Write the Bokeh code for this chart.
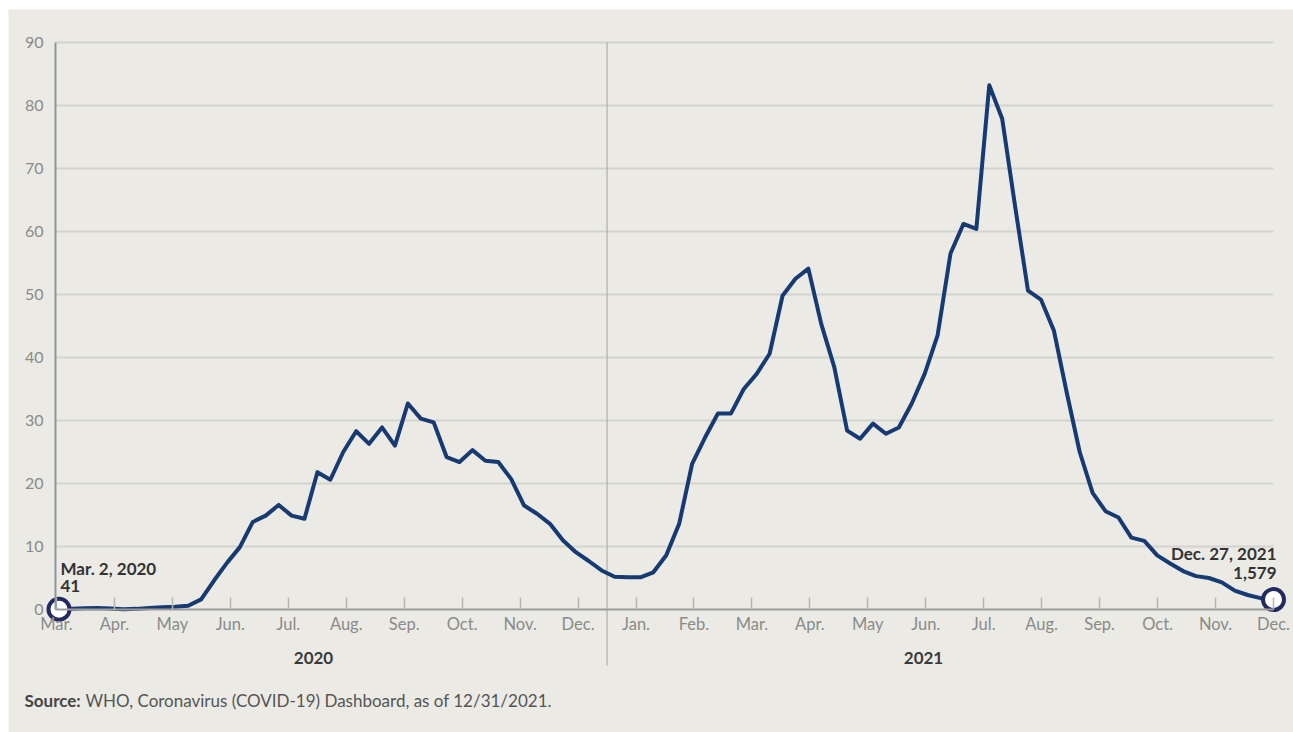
from bokeh.plotting import figure
from bokeh.models import Range1d, LinearAxis, FixedTicker
from bokeh.core.properties import value
from bokeh.embed import file_html
from bokeh.resources import INLINE

# ---------------- data (weekly, thousands) ----------------
deaths = [
    0.041, 0.1, 0.2, 0.25, 0.15, 0.05, 0.1, 0.25, 0.35, 0.45,
    0.6, 1.6, 4.6, 7.4, 9.9, 13.9, 14.9, 16.6, 14.9, 14.4,
    21.8, 20.6, 25.0, 28.3, 26.3, 28.9, 26.0, 32.7, 30.3, 29.7,
    24.2, 23.4, 25.3, 23.6, 23.4, 20.7, 16.5, 15.2, 13.6, 11.0,
    9.1, 7.7, 6.2, 5.2, 5.1, 5.1, 5.9, 8.6, 13.6, 23.1,
    27.3, 31.1, 31.1, 35.0, 37.4, 40.6, 49.8, 52.5, 54.1, 45.3,
    38.5, 28.4, 27.1, 29.5, 27.9, 28.9, 32.7, 37.4, 43.5, 56.5,
    61.2, 60.4, 83.2, 77.9, 64.0, 50.6, 49.2, 44.3, 34.4, 25.0,
    18.5, 15.6, 14.6, 11.4, 10.9, 8.6, 7.3, 6.1, 5.3, 5.0,
    4.3, 3.0, 2.3, 1.8, 1.579,
]
weeks = list(range(len(deaths)))
month_labels = ["Mar.", "Apr.", "May", "Jun.", "Jul.", "Aug.", "Sep.", "Oct.", "Nov.", "Dec.",
                "Jan.", "Feb.", "Mar.", "Apr.", "May", "Jun.", "Jul.", "Aug.", "Sep.", "Oct.",
                "Nov.", "Dec."]
year_labels = ["2020", "2021"]
y_ticks = [0, 10, 20, 30, 40, 50, 60, 70, 80, 90]
start_note = ["Mar. 2, 2020", "41"]
end_note = ["Dec. 27, 2021", "1,579"]
source_bold = "Source:"
source_rest = "WHO, Coronavirus (COVID-19) Dashboard, as of 12/31/2021."

# ---------------- layout (page pixels) ----------------
W, H = 1293, 732
LEFT, TOP = 8, 9
n = len(deaths)
X0_PX, X1_PX = 58.5, 1273.0      # px of first / last week
Y0_PX, YT_PX = 609.0, 42.0       # px of value 0 / 90
sx = (X1_PX - X0_PX) / (n - 1)
sy = (Y0_PX - YT_PX) / 90.0

def fx(px):
    return (px - X0_PX) / sx

def fy(py):
    return (Y0_PX - py) / sy

BG = "#ebeae4"
NAVY = "#173a73"
RING = "#232a61"
FONT = value("Lato")

p = figure(width=W, height=H, output_backend="svg", toolbar_location=None,
           x_axis_location=None, y_axis_location=None,
           x_range=Range1d(fx(LEFT), fx(W)), y_range=Range1d(fy(H), fy(TOP)),
           min_border_left=LEFT, min_border_right=0, min_border_top=TOP, min_border_bottom=0,
           background_fill_color=BG, border_fill_color="white", outline_line_color=None)
p.xgrid.visible = False
p.ygrid.visible = False

axis_x = fx(55)

# grid lines
p.segment(x0=axis_x, y0=y_ticks[1:], x1=n - 1, y1=y_ticks[1:], line_color="#d4d3ce", line_width=2)

# month ticks
t0 = fx(56)
month_ticks = [round(t0 + k * ((n - 1) - t0) / (len(month_labels) - 1), 4) for k in range(len(month_labels))]

# year divider
div_x = (month_ticks[9] + month_ticks[10]) / 2
p.segment(x0=[div_x], y0=[90], x1=[div_x], y1=[fy(665)], line_color="#a3a3a3", line_width=1)

# axes
xaxis = LinearAxis(ticker=FixedTicker(ticks=month_ticks), fixed_location=0,
                   bounds=(axis_x, n - 1))
xaxis.major_label_overrides = {t: lab for t, lab in zip(month_ticks, month_labels)}
xaxis.axis_line_color = "#9c9c9c"
xaxis.axis_line_width = 2
xaxis.major_tick_in = 12
xaxis.major_tick_out = 0
xaxis.major_tick_line_color = "#b5b5b5"
xaxis.major_tick_line_width = 1.5
xaxis.minor_tick_line_color = None
xaxis.major_label_standoff = 4
xaxis.major_label_text_font = "Lato"
xaxis.major_label_text_font_size = "16.5px"
xaxis.major_label_text_color = "#8a8a8a"
p.add_layout(xaxis, "below")

yaxis = LinearAxis(ticker=FixedTicker(ticks=y_ticks), fixed_location=axis_x, bounds=(0, 90))
yaxis.axis_line_color = "#94959a"
yaxis.axis_line_width = 2
yaxis.major_tick_in = 0
yaxis.major_tick_out = 0
yaxis.major_tick_line_color = None
yaxis.minor_tick_line_color = None
yaxis.major_label_standoff = 12
yaxis.major_label_text_font = "Lato"
yaxis.major_label_text_font_size = "16px"
yaxis.major_label_text_color = "#8a8a8a"
p.add_layout(yaxis, "left")

# main line
p.line(weeks, deaths, line_color=NAVY, line_width=4, line_join="round")

# end markers
p.scatter([weeks[0], weeks[-1]], [deaths[0], deaths[-1]], size=21, marker="circle",
          fill_color="white", line_color=RING, line_width=4)

# notes
py_first = Y0_PX - deaths[0] * sy
p.text(x=[fx(X0_PX + 1.5)] * 2, y=[fy(py_first - 41), fy(py_first - 23)], text=start_note,
       text_font=FONT, text_font_size="17px", text_font_style="bold", text_color="#333333",
       text_align="left", text_baseline="middle")
py_last = Y0_PX - deaths[-1] * sy
p.text(x=[fx(X1_PX + 3)] * 2, y=[fy(py_last - 46), fy(py_last - 27)], text=end_note,
       text_font=FONT, text_font_size="17px", text_font_style="bold", text_color="#333333",
       text_align="right", text_baseline="middle")

# year labels
p.text(x=[fx(313), fx(923)], y=[fy(657)] * 2, text=year_labels,
       text_font=FONT, text_font_size="17px", text_font_style="bold", text_color="#3a3a3a",
       text_align="center", text_baseline="middle")

# source
p.text(x=[fx(24)], y=[fy(700)], text=[source_bold], text_font=FONT, text_font_size="17px",
       text_font_style="bold", text_color="#444444", text_align="left", text_baseline="middle")
p.text(x=[fx(85)], y=[fy(700)], text=[source_rest], text_font=FONT, text_font_size="17px",
       text_color="#555555", text_align="left", text_baseline="middle")

open("out.html", "w").write(file_html(p, INLINE))
